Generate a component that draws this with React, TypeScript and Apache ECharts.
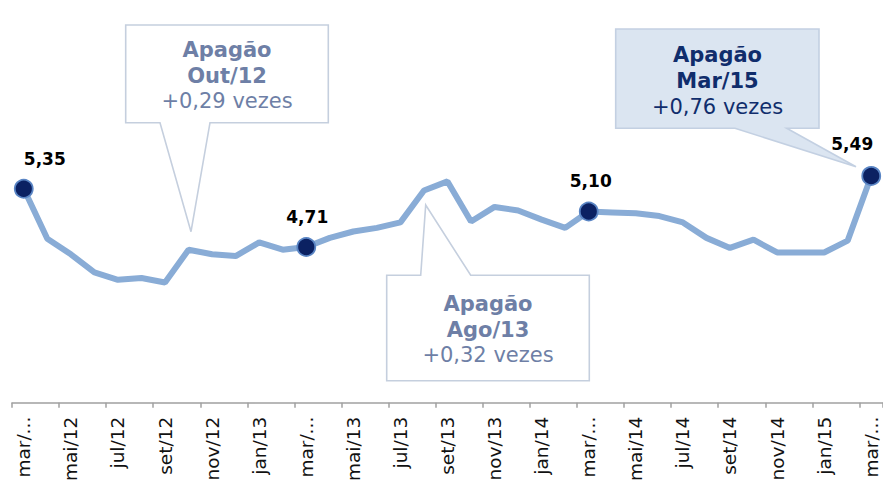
import React, { useEffect, useRef } from "react";
import * as echarts from "echarts";

const months: string[] = [
  "mar/12", "abr/12", "mai/12", "jun/12", "jul/12", "ago/12", "set/12", "out/12", "nov/12", "dez/12",
  "jan/13", "fev/13", "mar/13", "abr/13", "mai/13", "jun/13", "jul/13", "ago/13", "set/13", "out/13",
  "nov/13", "dez/13", "jan/14", "fev/14", "mar/14", "abr/14", "mai/14", "jun/14", "jul/14", "ago/14",
  "set/14", "out/14", "nov/14", "dez/14", "jan/15", "fev/15", "mar/15",
];

const values: number[] = [
  5.35, 4.80, 4.63, 4.43, 4.35, 4.37, 4.32, 4.68, 4.63, 4.61,
  4.76, 4.68, 4.71, 4.81, 4.88, 4.92, 4.98, 5.33, 5.43, 4.99,
  5.15, 5.11, 5.01, 4.92, 5.10, 5.09, 5.08, 5.05, 4.98, 4.81,
  4.70, 4.79, 4.65, 4.65, 4.65, 4.78, 5.49,
];

// indices of highlighted points and their label offsets
const markedIndex: number[] = [0, 12, 24, 36];
const markedOffset: [number, number][] = [[21, -30], [1, -30], [2, -30], [-19, -32]];

const calloutTitles: string[] = ["Apagão", "Apagão", "Apagão"];
const calloutMonths: string[] = ["Out/12", "Ago/13", "Mar/15"];
const calloutDeltas: string[] = ["+0,29 vezes", "+0,32 vezes", "+0,76 vezes"];

const fmt = (v: number) => v.toFixed(2).replace(".", ",");

export default function App() {
  const ref = useRef<HTMLDivElement>(null);
  useEffect(() => {
    if (!ref.current) return;
    const chart = echarts.init(ref.current, undefined, { renderer: "svg" });

    const seriesData = values.map((v, i) => {
      const k = markedIndex.indexOf(i);
      if (k < 0) return { value: v };
      return {
        value: v,
        symbol: "circle",
        symbolSize: 18,
        itemStyle: { color: "#0b2162", borderColor: "#5a85c4", borderWidth: 1.8 },
        label: {
          show: true,
          position: "inside",
          offset: markedOffset[k],
          formatter: (p: any) => fmt(p.value),
          color: "#000",
          fontFamily: "DejaVu Sans",
          fontWeight: "bold",
          fontSize: 17,
        },
      };
    });

    const FONT = "DejaVu Sans";
    const mkText = (x: number, y: number, text: string, bold: boolean, color: string) => ({
      type: "text",
      x,
      y,
      z: 10,
      style: {
        text,
        fill: color,
        font: `${bold ? "bold " : ""}21px "${FONT}"`,
        align: "center",
        verticalAlign: "middle",
      },
    });

    const grey = "#c5cfde";
    const textGrey = "#6e7fa6";
    const navy = "#102d6c";

    const graphics: any[] = [
      {
        type: "polygon",
        z: 5,
        shape: {
          points: [
            [125.7, 25], [328.3, 25], [328.3, 122.7], [210, 122.7], [191, 231.7], [160, 122.7], [125.7, 122.7],
          ],
        },
        style: { fill: "#ffffff", stroke: grey, lineWidth: 1.6 },
      },
      mkText(227, 49.5, calloutTitles[0], true, textGrey),
      mkText(227, 75.8, calloutMonths[0], true, textGrey),
      mkText(227, 100.8, calloutDeltas[0], false, textGrey),
      {
        type: "polygon",
        z: 5,
        shape: {
          points: [
            [386.7, 275.3], [420.7, 275.3], [425.7, 205], [470.7, 275.3], [589.3, 275.3], [589.3, 380.7], [386.7, 380.7],
          ],
        },
        style: { fill: "#ffffff", stroke: grey, lineWidth: 1.6 },
      },
      mkText(488, 304.3, calloutTitles[1], true, textGrey),
      mkText(488, 330, calloutMonths[1], true, textGrey),
      mkText(488, 355, calloutDeltas[1], false, textGrey),
      {
        type: "polygon",
        z: 5,
        shape: {
          points: [
            [615.7, 29], [819, 29], [819, 128.3], [786.7, 128.3], [856, 166.7], [735, 128.3], [615.7, 128.3],
          ],
        },
        style: { fill: "#dbe5f1", stroke: "#c3d0e2", lineWidth: 1.6 },
      },
      mkText(717.5, 54.7, calloutTitles[2], true, navy),
      mkText(717.5, 80.8, calloutMonths[2], true, navy),
      mkText(717.5, 107, calloutDeltas[2], false, navy),
    ];

    chart.setOption({
      animation: false,
      backgroundColor: "#ffffff",
      grid: { left: 12, right: -3, top: 129.5, bottom: 80, containLabel: false },
      xAxis: {
        type: "category",
        data: months,
        boundaryGap: true,
        axisLine: { show: true, lineStyle: { color: "#a0a0a0", width: 1.5 } },
        axisTick: { show: true, interval: 1, length: 5, lineStyle: { color: "#a0a0a0", width: 1.5 } },
        axisLabel: {
          interval: 1,
          rotate: 90,
          margin: 14,
          color: "#111",
          fontFamily: FONT,
          fontSize: 18.5,
          formatter: (v: string) => (v.startsWith("mar") ? "mar/..." : v),
        },
        splitLine: { show: false },
      },
      yAxis: {
        type: "value",
        min: 3,
        max: 6,
        show: false,
        splitLine: { show: false },
      },
      series: [
        {
          type: "line",
          data: seriesData,
          symbol: "none",
          showSymbol: true,
          smooth: false,
          z: 20,
          lineStyle: { color: "#89acd6", width: 6 },
          itemStyle: { color: "#89acd6" },
          label: { show: false },
        },
      ],
      graphic: graphics,
    });

    return () => chart.dispose();
  }, []);

  return (
    <div
      ref={ref}
      style={{ position: "absolute", left: 0, top: 0, width: 883, height: 484 }}
    />
  );
}
